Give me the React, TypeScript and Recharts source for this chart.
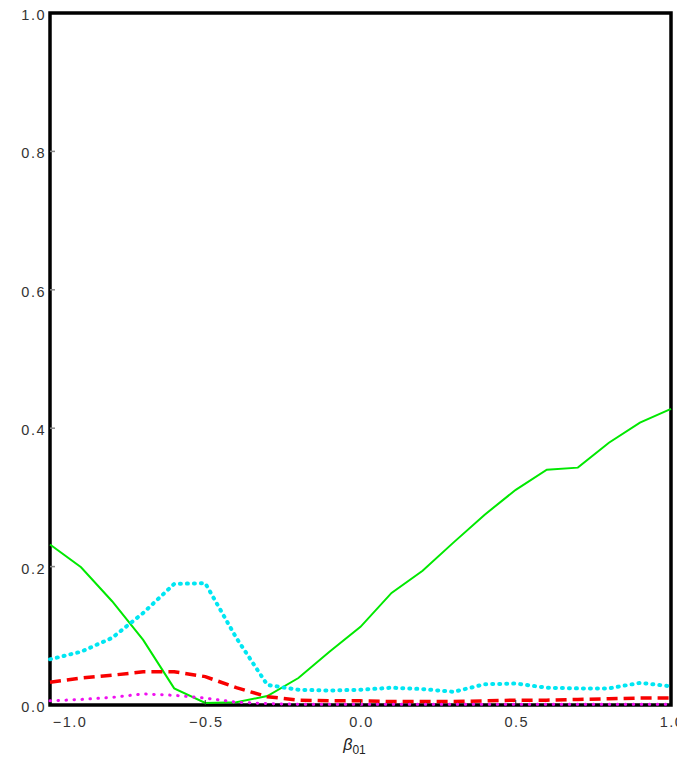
import { LineChart, Line, XAxis, YAxis, ReferenceArea } from 'recharts';

const betaValues = [-1.0, -0.9, -0.8, -0.7, -0.6, -0.5, -0.4, -0.3, -0.2, -0.1, 0.0, 0.1, 0.2, 0.3, 0.4, 0.5, 0.6, 0.7, 0.8, 0.9, 1.0];
const greenSeries = [0.232, 0.199, 0.150, 0.094, 0.024, 0.003, 0.004, 0.013, 0.039, 0.077, 0.113, 0.162, 0.194, 0.235, 0.275, 0.311, 0.340, 0.343, 0.379, 0.408, 0.428];
const cyanSeries = [0.066, 0.077, 0.097, 0.133, 0.175, 0.176, 0.097, 0.029, 0.022, 0.021, 0.022, 0.025, 0.023, 0.019, 0.030, 0.031, 0.025, 0.024, 0.024, 0.032, 0.027];
const redSeries = [0.033, 0.039, 0.043, 0.048, 0.048, 0.041, 0.025, 0.012, 0.007, 0.006, 0.006, 0.005, 0.005, 0.005, 0.006, 0.007, 0.007, 0.008, 0.009, 0.010, 0.010];
const magentaSeries = [0.006, 0.008, 0.011, 0.016, 0.014, 0.010, 0.004, 0.002, 0.001, 0.001, 0.001, 0.001, 0.001, 0.001, 0.001, 0.001, 0.001, 0.001, 0.001, 0.001, 0.001];

const xTicks = [-1.0, -0.5, 0.0, 0.5, 1.0];
const yTicks = [0.0, 0.2, 0.4, 0.6, 0.8, 1.0];

const data = betaValues.map((b, i) => ({
  beta: b,
  green: greenSeries[i],
  cyan: cyanSeries[i],
  red: redSeries[i],
  magenta: magentaSeries[i],
}));

const labelFont = { fontFamily: '"Liberation Sans", Arial, sans-serif', fontSize: 14.5, fill: '#333', style: { letterSpacing: '1.5px' } };

function XTick({ x, y, payload }: any) {
  const v = payload.value as number;
  const text = (v < 0 ? '\u2212' : '') + Math.abs(v).toFixed(1);
  return (
    <g>
      {v > -1 && v < 1 && <line x1={x} y1={y} x2={x} y2={y - 5} stroke="#333" strokeWidth={1} />}
      <text x={x + 19 * (v === -1 ? 1 : 0) + 1} y={y + 22} textAnchor="middle" {...labelFont}>{text}</text>
    </g>
  );
}

function YTick({ x, y, payload }: any) {
  const v = payload.value as number;
  return (
    <g>
      {v > 0 && v < 1 && <line x1={x} y1={y} x2={x + 5} y2={y} stroke="#888" strokeWidth={1.5} />}
      <text x={x - 4} y={y + 7} textAnchor="end" {...labelFont}>{v.toFixed(1)}</text>
    </g>
  );
}

function RightTick({ x, y, payload }: any) {
  const v = payload.value as number;
  if (v <= 0 || v >= 1) return <g />;
  return <line x1={x - 6} y1={y} x2={x} y2={y} stroke="#888" strokeWidth={1.5} />;
}

function XTitle({ viewBox }: any) {
  const cx = viewBox.x + viewBox.width / 2;
  return (
    <text x={cx - 6} y={viewBox.y + 45} fontFamily='"Liberation Sans", Arial, sans-serif' fill="#222" textAnchor="middle">
      <tspan fontStyle="italic" fontSize={16}>β</tspan>
      <tspan fontSize={12} dy={4}>01</tspan>
    </text>
  );
}

export default function App() {
  return (
    <LineChart width={677} height={750} data={data} margin={{ top: 5, right: 14, left: 0, bottom: 0 }}>
      <XAxis
        dataKey="beta"
        type="number"
        domain={[-1, 1]}
        ticks={xTicks}
        height={53}
        tickSize={0}
        tickMargin={0}
        axisLine={false}
        tickLine={false}
        tick={<XTick />}
        interval={0}
        label={<XTitle />}
      />
      <YAxis
        domain={[0, 1]}
        ticks={yTicks}
        width={42}
        tickSize={0}
        tickMargin={0}
        axisLine={false}
        tickLine={false}
        tick={<YTick />}
        interval={0}
      />
      <YAxis
        yAxisId="right"
        orientation="right"
        domain={[0, 1]}
        ticks={yTicks}
        width={0}
        tickSize={0}
        tickMargin={0}
        axisLine={false}
        tickLine={false}
        tick={<RightTick />}
        interval={0}
      />
      <ReferenceArea x1={-1} x2={1} y1={0} y2={1} fill="none" stroke="#000" strokeWidth={3.5} ifOverflow="visible" />
      <Line dataKey="green" type="linear" stroke="#00e800" strokeWidth={2} dot={false} isAnimationActive={false} />
      <Line dataKey="cyan" type="linear" stroke="#00e6f2" strokeWidth={4} strokeDasharray="1 6" strokeLinecap="round" dot={false} isAnimationActive={false} />
      <Line dataKey="red" type="linear" stroke="#f80000" strokeWidth={3.5} strokeDasharray="11 6" dot={false} isAnimationActive={false} />
      <Line dataKey="magenta" type="linear" stroke="#f010f0" strokeWidth={3} strokeDasharray="0.5 7.5" strokeLinecap="round" dot={false} isAnimationActive={false} />
    </LineChart>
  );
}
